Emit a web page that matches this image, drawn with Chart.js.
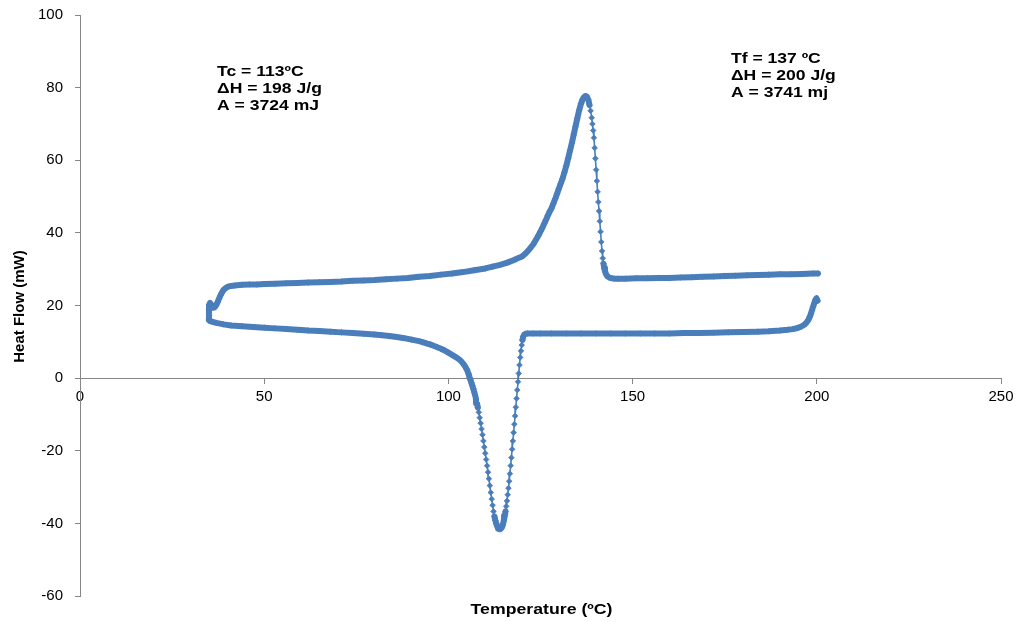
<!DOCTYPE html>
<html>
<head>
<meta charset="utf-8">
<title>DSC – Heat Flow vs Temperature</title>
<script src="https://cdn.jsdelivr.net/npm/chart.js@4/dist/chart.umd.min.js"></script>
<style>
  html, body { margin: 0; padding: 0; background: #ffffff; }
  canvas { display: block; }
</style>
</head>
<body>
<canvas id="dsc" width="1024" height="622"></canvas>
<script>
// Heating run (melting endotherm), temperature in ºC and heat flow in mW
const heatT = [
  35.0, 35.0, 35.0, 35.0, 35.05, 35.3, 35.7, 36.1, 36.5, 36.9, 37.3, 37.7, 38.1, 38.5, 38.9, 39.4,
  40, 41, 42, 44, 46, 48, 50, 53, 56, 59, 62, 65, 68, 71, 74, 77, 80, 83, 86, 89, 92, 95, 98,
  101, 104, 107, 110, 112, 114, 116, 118, 119, 120, 121, 122, 123, 124, 124.5, 125, 125.5, 126,
  126.5, 127, 127.5, 128, 128.5, 129, 129.5, 130, 130.5, 131, 131.5, 132, 132.5, 133, 133.5,
  134, 134.5, 135, 135.5, 136, 136.4, 136.8, 137.2, 137.6, 138.0, 138.3, 138.6, 138.9, 139.1,
  139.3, 139.5, 139.7, 139.9, 140.1, 140.3, 140.5, 140.7, 140.9, 141.1, 141.3, 141.5, 141.7,
  141.9, 142.1, 142.3, 142.5, 142.8, 143.2, 143.7, 144.3, 145, 146, 148, 151, 154, 157, 160,
  163, 166, 169, 172, 175, 178, 181, 184, 187, 190, 193, 196, 199, 200.3
];
const heatHF = [
  16.2, 17.2, 18.2, 19.2, 20.2, 20.7, 20.2, 19.4, 19.5, 20.0, 20.8, 21.8, 22.7, 23.5, 24.2, 24.7,
  25.1, 25.4, 25.5, 25.7, 25.8, 25.8, 25.9, 26.0, 26.1, 26.2, 26.3, 26.4, 26.5, 26.6, 26.8, 26.9,
  27.0, 27.2, 27.4, 27.6, 27.9, 28.1, 28.5, 28.8, 29.2, 29.7, 30.2, 30.7, 31.2, 31.8, 32.6, 33.1,
  33.5, 34.4, 35.5, 36.8, 38.5, 39.4, 40.4, 41.4, 42.5, 43.6, 44.8, 45.9, 46.8, 48.1, 49.4, 50.8,
  52.2, 53.6, 55.0, 56.7, 58.5, 60.5, 62.6, 64.7, 67.0, 69.3, 71.6, 73.8, 75.6, 76.7, 77.4, 77.7,
  77.5, 76.6, 75.2, 73.6, 71.7, 70.0, 68.2, 66.2, 63.4, 60.5, 57.4, 54.3, 51.3, 48.5, 46.0, 43.2,
  40.3, 37.5, 35.0, 33.0, 31.5, 30.3, 29.4, 28.6, 28.0, 27.7, 27.5, 27.4, 27.4, 27.4, 27.5, 27.5,
  27.6, 27.6, 27.7, 27.8, 27.9, 28.0, 28.1, 28.2, 28.3, 28.4, 28.5, 28.6, 28.6, 28.7, 28.8, 28.8
];

// Cooling run (crystallisation exotherm), from 200 ºC back down to 35 ºC
const coolT = [
  200.2, 199.9, 199.6, 199.3, 199.0, 198.7, 198.4, 198.1, 197.7, 197.2, 196.6, 195.8, 194.8,
  193.5, 192, 190, 187, 184, 180, 176, 172, 168, 164, 160, 156, 152, 148, 144, 140, 136, 132,
  128, 125, 123, 121.4, 121.0, 120.6, 120.3, 120.1, 119.9, 119.7, 119.5, 119.3, 119.1, 118.9,
  118.7, 118.5, 118.3, 118.1, 117.9, 117.7, 117.5, 117.3, 117.1, 116.9, 116.7, 116.5, 116.3,
  116.1, 115.9, 115.7, 115.5, 115.3, 115.1, 114.9, 114.7, 114.5, 114.3, 114.1, 113.9, 113.7,
  113.5, 113.25, 113.0, 112.75, 112.5, 112.25, 112.0, 111.75, 111.5, 111.25, 111.0, 110.75,
  110.5, 110.25, 110.0, 109.75, 109.5, 109.25, 109.0, 108.75, 108.5, 108.25, 108.0, 107.75,
  107.5, 107.25, 107.0, 106.75, 106.5, 106.25, 106.0, 105.75, 105.5, 105.0, 104.5, 104.0, 103.5,
  103, 102, 101, 100, 99, 98, 97, 96, 95, 94, 93, 92, 90, 88, 86, 84, 82, 80, 77, 74, 71, 68,
  65, 62, 59, 56, 53, 50, 47, 44, 41, 39, 37, 36, 35.3, 35.0
];
const coolHF = [
  21.3, 22.0, 21.5, 20.6, 19.7, 18.7, 17.7, 16.9, 16.0, 15.3, 14.7, 14.2, 13.8, 13.5, 13.3, 13.1,
  12.9, 12.8, 12.7, 12.6, 12.5, 12.4, 12.4, 12.3, 12.3, 12.3, 12.3, 12.3, 12.3, 12.3, 12.3, 12.3,
  12.3, 12.3, 12.3, 12.2, 12.0, 11.4, 10.5, 9.1, 7.5, 5.7, 3.6, 1.3, -1.0, -3.3, -5.6, -8.0,
  -10.4, -12.7, -15.0, -17.3, -19.6, -21.9, -24.1, -26.3, -28.4, -30.3, -32.1, -33.8, -35.3,
  -36.7, -37.9, -39.0, -39.9, -40.6, -41.1, -41.4, -41.6, -41.6, -41.5, -41.3, -40.8, -40.1,
  -39.2, -38.1, -36.7, -35.0, -33.3, -31.5, -29.6, -27.7, -25.9, -24.1, -22.4, -20.7, -19.0,
  -17.3, -15.6, -14.0, -12.4, -10.9, -9.4, -8.1, -6.9, -5.8, -4.7, -3.8, -2.9, -2.1, -1.3, -0.5,
  0.2, 1.1, 2.4, 3.3, 4.0, 4.6, 5.1, 5.8, 6.4, 7.0, 7.6, 8.1, 8.5, 8.9, 9.3, 9.6, 9.9, 10.2, 10.6,
  11.0, 11.3, 11.6, 11.8, 12.0, 12.2, 12.4, 12.6, 12.8, 13.0, 13.1, 13.3, 13.5, 13.7, 13.9, 14.1,
  14.3, 14.5, 14.8, 15.2, 15.5, 15.7, 16.0
];

// Axis ranges and tick spacing
const xRange = [0, 250], xStep = 50;
const yRange = [-60, 100], yStep = 20;

// Annotation blocks, anchored at data coordinates (first baseline)
const notes = [
  { x: 37.2, y: 83.2, lines: ['Tc = 113ºC', 'ΔH = 198 J/g', 'A = 3724 mJ'] },
  { x: 176.7, y: 86.7, lines: ['Tf = 137 ºC', 'ΔH = 200 J/g', 'A = 3741 mj'] }
];
const xTitle = 'Temperature (ºC)';
const yTitle = 'Heat Flow (mW)';

const BLUE = '#4A7EBB';
const AXIS = '#868686';
const toPoints = (t, h) => t.map((v, i) => ({ x: v, y: h[i] }));

// Steep segments are drawn as a thin line with separate markers;
// short or shallow ones merge into a solid band.
const steep = c => {
  const dx = Math.abs(c.p1.x - c.p0.x);
  const dy = Math.abs(c.p1.y - c.p0.y);
  return dy > 4.5 && dy > 5 * dx;
};

const seriesStyle = {
  showLine: true,
  borderColor: BLUE,
  backgroundColor: BLUE,
  borderWidth: 2,
  borderJoinStyle: 'round',
  borderCapStyle: 'round',
  pointStyle: 'rectRot',
  pointRadius: 2.8,
  pointBorderWidth: 0.8,
  pointBorderColor: BLUE,
  pointBackgroundColor: BLUE,
  tension: 0,
  segment: { borderWidth: c => (steep(c) ? 1.6 : 6) }
};

const textPlugin = {
  id: 'dscText',
  afterDraw(chart) {
    const { ctx, scales: { x, y } } = chart;
    ctx.save();
    ctx.fillStyle = '#000000';
    ctx.textAlign = 'left';
    ctx.textBaseline = 'alphabetic';
    ctx.font = 'bold 15px "Liberation Sans", Arial, sans-serif';
    notes.forEach(n => {
      const px = x.getPixelForValue(n.x);
      const py = y.getPixelForValue(n.y);
      n.lines.forEach((line, i) => {
        ctx.save();
        ctx.translate(px, py + i * 17);
        ctx.scale(1.17, 1);
        ctx.fillText(line, 0, 0);
        ctx.restore();
      });
    });

    // x-axis title, centred under the plot area
    const area = chart.chartArea;
    ctx.save();
    ctx.translate((area.left + area.right) / 2 + 1, 614);
    ctx.scale(1.18, 1);
    ctx.textAlign = 'center';
    ctx.fillText(xTitle, 0, 0);
    ctx.restore();

    // y-axis title, rotated
    ctx.save();
    ctx.translate(23.5, (area.top + area.bottom) / 2 + 1);
    ctx.rotate(-Math.PI / 2);
    ctx.textAlign = 'center';
    ctx.fillText(yTitle, 0, 0);
    ctx.restore();
    ctx.restore();
  }
};

const tickFont = { family: '"Liberation Sans", Arial, sans-serif', size: 15 };

new Chart(document.getElementById('dsc'), {
  type: 'scatter',
  data: {
    datasets: [
      Object.assign({ label: 'Heating', data: toPoints(heatT, heatHF) }, seriesStyle),
      Object.assign({ label: 'Cooling', data: toPoints(coolT, coolHF) }, seriesStyle)
    ]
  },
  options: {
    responsive: false,
    animation: false,
    layout: { padding: { left: 0, right: 23, top: 15, bottom: 26 } },
    plugins: {
      legend: { display: false },
      tooltip: { enabled: false }
    },
    scales: {
      x: {
        type: 'linear',
        position: { y: 0 },
        min: xRange[0],
        max: xRange[1],
        ticks: { stepSize: xStep, color: '#000000', font: tickFont, padding: 5, maxRotation: 0 },
        grid: { drawOnChartArea: false, drawTicks: true, tickLength: 5, color: AXIS },
        border: { color: AXIS, width: 1 }
      },
      y: {
        type: 'linear',
        position: 'left',
        min: yRange[0],
        max: yRange[1],
        ticks: { stepSize: yStep, color: '#000000', font: tickFont, padding: 12 },
        grid: { drawOnChartArea: false, drawTicks: true, tickLength: 5, color: AXIS },
        border: { color: AXIS, width: 1 },
        afterFit: s => {
          s.width = 80;
          s.paddingTop = 9;
          s.paddingBottom = 9;
        }
      }
    }
  },
  plugins: [textPlugin]
});
</script>
</body>
</html>
